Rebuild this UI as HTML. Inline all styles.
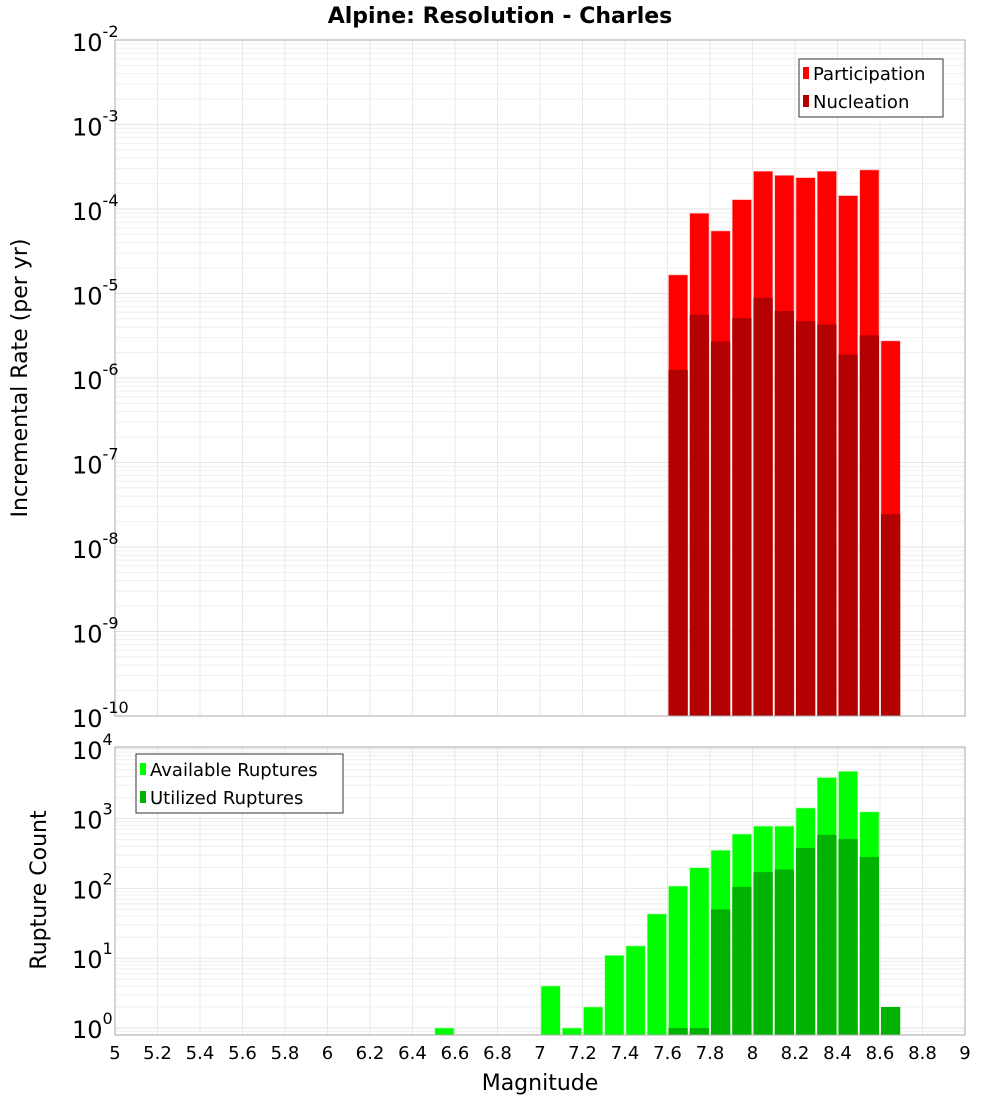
<!DOCTYPE html>
<html><head><meta charset="utf-8"><style>
body{margin:0;background:#fff;font-family:"Liberation Sans","DejaVu Sans",sans-serif}
svg text{font-family:"DejaVu Sans","Liberation Sans",sans-serif}
</style></head><body>
<svg id="c" width="1000" height="1100" xmlns="http://www.w3.org/2000/svg"></svg>
<script>
const mags = [7.6,7.7,7.8,7.9,8.0,8.1,8.2,8.3,8.4,8.5,8.6];
const participation = [1.66e-5,8.9e-5,5.5e-5,1.29e-4,2.8e-4,2.5e-4,2.35e-4,2.8e-4,1.44e-4,2.9e-4,2.75e-6];
const nucleation = [1.25e-6,5.6e-6,2.7e-6,5.1e-6,8.9e-6,6.2e-6,4.7e-6,4.3e-6,1.9e-6,3.2e-6,2.45e-8];
const countMags = [6.5,7.0,7.1,7.2,7.3,7.4,7.5,7.6,7.7,7.8,7.9,8.0,8.1,8.2,8.3,8.4,8.5,8.6];
const available = [1,4,1,2,11,15,43,108,198,352,600,780,780,1420,3880,4760,1250,0];
const utilized = [0,0,0,0,0,0,0,1,1,50,105,171,187,380,585,510,282,2];
const xTicks = ["5","5.2","5.4","5.6","5.8","6","6.2","6.4","6.6","6.8","7","7.2","7.4","7.6","7.8","8","8.2","8.4","8.6","8.8","9"];
const topExps = [-2,-3,-4,-5,-6,-7,-8,-9,-10];
const botExps = [4,3,2,1,0];

const svg=document.getElementById('c');const NS='http://www.w3.org/2000/svg';
function el(t,a,p){const e=document.createElementNS(NS,t);for(const k in a)e.setAttribute(k,a[k]);(p||svg).appendChild(e);return e;}
const X0=115,X1=965;
const xs=m=>X0+(m-5)/4*(X1-X0);
const T0=40,T1=716; const ysTop=v=>T0+(-2-Math.log10(v))/8*(T1-T0);
const B0=747,B1=1035; const PX=69.8; const ysBot=v=>1028-Math.log10(v)*PX;

function grid(y0,y1,minE,maxE,ysf,g){
  for(let e=minE;e<maxE;e++)for(let k=1;k<10;k++){const y=ysf(k*Math.pow(10,e));if(y<y0-0.5||y>y1+0.5)continue;
    const l=el('line',{x1:X0,x2:X1,y1:y,y2:y,stroke:k==1?'#e4e4e4':'#efefef','stroke-width':1},g);
    }
  xTicks.forEach(t=>{const x=xs(+t);const l=el('line',{x1:x,x2:x,y1:y0,y2:y1,stroke:'#e8e8e8'},g);
    });
}
// title
let t=el('text',{x:500,y:23,'text-anchor':'middle','font-size':22,'font-weight':'bold'});t.textContent='Alpine: Resolution - Charles';


// top plot
const gt=el('g',{});
grid(T0,T1,-10,-2,ysTop,gt);
mags.forEach((m,i)=>{
  const x=xs(m)+1,w=xs(m+0.1)-xs(m)-2;
  let y=ysTop(participation[i]);
  let r=el('rect',{x:x,y:y,width:w,height:T1-y,fill:'#ff0000',stroke:'#ffb0b0','stroke-width':0.6},gt);
  
  y=ysTop(nucleation[i]);
  r=el('rect',{x:x,y:y,width:w,height:T1-y,fill:'#b30000'},gt);
  
});
el('rect',{x:X0,y:T0,width:X1-X0,height:T1-T0,fill:'none',stroke:'#aaa'},gt);
topExps.forEach(e=>{const y=ysTop(Math.pow(10,e));
  const tx=el('text',{x:72,y:y+11,'font-size':24},gt);tx.textContent='10';
  const s=el('tspan',{dy:-14,'font-size':16},tx);s.textContent=String(e);
  });
t=el('text',{x:0,y:0,'font-size':22,'text-anchor':'middle',transform:'translate(27,378) rotate(-90)'});t.textContent='Incremental Rate (per yr)';

// top legend
const lg=el('g',{});
el('rect',{x:799,y:59,width:144,height:58,fill:'#fff',stroke:'#333'},lg);
el('rect',{x:803,y:67,width:6,height:12,fill:'#ff0000'},lg);
el('rect',{x:803,y:95,width:6,height:12,fill:'#b30000'},lg);
t=el('text',{x:813,y:80,'font-size':18},lg);t.textContent='Participation';
t=el('text',{x:813,y:108,'font-size':18},lg);t.textContent='Nucleation';

// bottom plot
const gb=el('g',{});
grid(B0,B1,-1,5,ysBot,gb);
countMags.forEach((m,i)=>{
  const x=xs(m)+1,w=xs(m+0.1)-xs(m)-2;
  if(available[i]>0){const y=ysBot(available[i]);
    const r=el('rect',{x:x,y:y,width:w,height:B1-y,fill:'#00ff00',stroke:'#b0ffb0','stroke-width':0.6},gb);
    }
  if(utilized[i]>0){const y=ysBot(utilized[i]);
    const r=el('rect',{x:x,y:y,width:w,height:B1-y,fill:'#00b300'},gb);
    }
});
el('rect',{x:X0,y:B0,width:X1-X0,height:B1-B0,fill:'none',stroke:'#aaa'},gb);
botExps.forEach(e=>{const y=ysBot(Math.pow(10,e));
  const tx=el('text',{x:72,y:y+10,'font-size':24},gb);tx.textContent='10';
  const s=el('tspan',{dy:-14,'font-size':16},tx);s.textContent=String(e);
  });
t=el('text',{x:0,y:0,'font-size':22,'text-anchor':'middle',transform:'translate(46,890) rotate(-90)'});t.textContent='Rupture Count';

const lb=el('g',{});
el('rect',{x:136,y:754,width:207,height:59,fill:'#fff',stroke:'#333'},lb);
el('rect',{x:140,y:763,width:6,height:12,fill:'#00ff00'},lb);
el('rect',{x:140,y:791,width:6,height:12,fill:'#00b300'},lb);
t=el('text',{x:150,y:776,'font-size':18},lb);t.textContent='Available Ruptures';
t=el('text',{x:150,y:804,'font-size':18},lb);t.textContent='Utilized Ruptures';
xTicks.forEach(s=>{const tx=el('text',{x:xs(+s),y:1059,'font-size':18,'text-anchor':'middle'});tx.textContent=s;
  });
t=el('text',{x:540,y:1090,'font-size':22,'text-anchor':'middle'});t.textContent='Magnitude';

</script>
</body></html>
